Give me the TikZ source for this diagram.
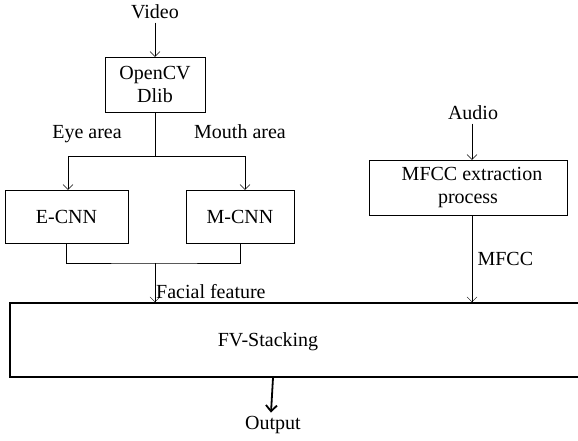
\documentclass[tikz,border=0pt]{standalone}
\usepackage{fontspec}
\setmainfont{Liberation Serif}
\usetikzlibrary{arrows.meta,positioning}

\begin{document}
\begin{tikzpicture}[x=1pt,y=-1pt,>={Straight Barb[length=5pt,width=10pt]},semithick,
                    font=\fontsize{20}{23}\selectfont]
  \tikzstyle{block}=[draw,thin,align=center,inner sep=2pt]
  \tikzstyle{flow}=[->,thin]
  \tikzstyle{wire}=[thin]

  \clip (0,0) rectangle (578,440);

  \node                 (video) at (155,12)    {Video};
  \node[block,minimum width=100,minimum height=55] (cv)   at (155,84.5)  {OpenCV\\Dlib};
  \node[block,minimum width=123,minimum height=53] (ecnn) at (66.5,216.5) {E-CNN};
  \node[block,minimum width=108,minimum height=53] (mcnn) at (240,216.5) {M-CNN};
  \node                 (eye)   at (87,134)    {Eye area};
  \node                 (mouth) at (240,132)   {Mouth area};

  \node                 (audio) at (473,113)   {Audio};
  \node[block,minimum width=198,minimum height=55] (mfcc) at (468,187.5) {\hspace*{8pt}MFCC extraction\\process};

  \node[draw,line width=1.6pt,minimum width=584,minimum height=74] (fv) at (302,340) {};
  \node                 (fvtext) at (268,342)  {FV-Stacking};
  \node                 (output) at (273,425)  {Output};

  \coordinate (split) at (155,156);
  \coordinate (join)  at (155,263);

  \draw[flow] (video) -- (cv);
  \draw[wire] (cv) -- (split);
  \draw[flow] (split) -| ([xshift=1.5]ecnn.north);
  \draw[flow] (split) -| ([xshift=5]mcnn.north);
  \draw[wire] (ecnn.south) |- (join) -| (mcnn.south);
  \draw[flow] (join) -- (join |- fv.north)
        node[right,pos=0.72,inner sep=1pt] {Facial feature};

  \draw[flow] ([xshift=-1]audio.south) -- ([xshift=-1]audio |- mfcc.north);
  \draw[flow] ([xshift=-1]audio |- mfcc.south) -- ([xshift=-1]audio |- fv.north)
        node[midway,right,xshift=2pt] {MFCC};

  \draw[-{Straight Barb[length=6pt,width=11pt]},line width=1.8pt]
        (output |- fv.south) -- ([xshift=-2]output.north);
\end{tikzpicture}
\end{document}
